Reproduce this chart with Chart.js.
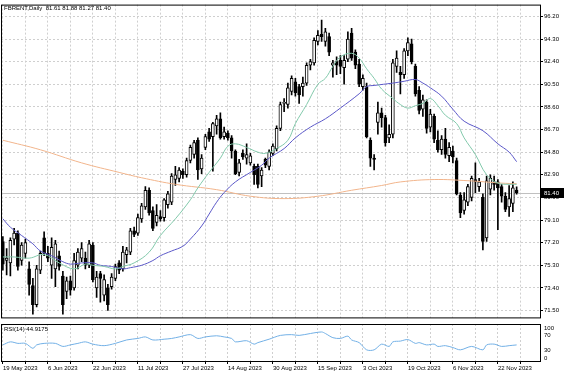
<!DOCTYPE html>
<html>
<head>
<meta charset="utf-8">
<script src="https://cdn.jsdelivr.net/npm/chart.js@4.4.0/dist/chart.umd.min.js"></script>
<style>
  body { margin: 0; background: #fff; }
  #wrap { position: relative; width: 564px; height: 376px; }
  #main { position: absolute; left: 0; top: 0; }
  #rsi { position: absolute; left: 0; top: 323px; }
</style>
</head>
<body>
<div id="wrap">
  <canvas id="main" width="564" height="323"></canvas>
  <canvas id="rsi" width="564" height="53"></canvas>
</div>
<script>
// FBRENT daily
var opens = [77.3,75.7,75.5,77.5,78.0,75.7,76.3,75.0,73.6,72.0,74.9,77.6,76.3,75.3,75.0,76.1,74.4,73.1,74.0,73.4,
  75.3,75.9,75.9,75.3,77.0,73.4,74.6,72.8,73.4,73.5,74.2,75.5,75.0,76.2,76.4,78.2,78.0,79.2,80.2,81.6,
  79.9,78.9,79.4,79.3,80.4,80.6,82.5,82.6,83.2,82.9,84.1,84.6,85.8,83.4,85.2,86.5,86.1,87.0,87.6,86.1,
  86.4,86.0,84.9,83.1,84.7,84.3,83.9,83.6,83.6,82.8,84.2,83.6,84.7,85.1,86.8,88.9,88.8,89.9,90.7,90.3,
  90.3,90.6,92.1,92.3,94.1,94.7,94.1,94.5,92.1,92.4,92.5,91.9,92.6,94.8,93.2,92.2,90.3,90.3,85.8,84.3,
  87.3,88.1,87.7,86.0,86.3,92.0,91.5,91.3,93.3,93.9,92.0,90.0,88.4,89.0,86.9,87.8,85.8,85.0,85.9,84.5,
  84.9,84.1,81.2,79.9,80.6,81.0,82.5,81.9,81.0,77.6,81.7,82.3,82.3,81.9,81.1,80.2,80.5,81.61];
var highs = [77.7,76.7,77.6,78.4,78.2,77.2,77.5,75.6,74.2,75.3,76.5,78.1,76.9,77.6,77.4,76.5,74.8,74.3,74.4,76.3,
  76.7,77.2,76.4,77.4,77.2,74.8,74.8,74.5,73.7,74.6,75.4,75.7,76.9,76.8,78.4,78.5,79.6,80.5,81.9,81.8,
  80.2,80.4,79.9,80.9,81.5,83.0,83.6,83.5,83.4,84.3,85.4,85.8,86.0,84.6,86.3,86.8,87.3,87.9,88.1,86.9,
  86.6,86.2,85.0,84.2,85.0,85.5,84.7,83.8,83.8,83.5,84.3,85.0,85.5,87.0,89.0,89.3,90.6,91.2,91.0,90.5,
  91.1,92.3,92.6,94.4,95.0,95.9,95.2,94.8,92.5,92.8,92.9,92.9,94.9,95.2,93.4,92.6,91.3,90.6,86.0,84.6,
  89.0,88.5,87.9,87.1,92.6,93.3,92.0,93.5,94.4,94.3,92.2,90.3,89.6,89.2,88.4,88.0,86.6,86.2,86.8,85.6,
  85.3,84.3,81.4,81.4,82.1,82.8,83.9,82.6,81.3,82.8,82.9,82.8,82.5,82.1,81.4,82.0,82.3,81.88];
var lows = [74.9,74.5,74.4,77.0,74.9,75.3,75.9,72.8,71.2,71.8,74.6,76.1,75.6,74.2,73.5,74.9,71.2,72.5,72.8,73.2,
  75.0,75.6,75.0,75.1,73.9,72.6,72.2,72.3,71.5,73.3,74.0,74.6,74.8,75.5,76.2,77.7,77.8,78.9,80.0,79.5,
  78.2,78.6,79.0,79.0,80.1,80.4,82.0,82.3,82.6,82.7,83.9,84.3,82.5,83.0,85.0,85.7,83.2,86.3,85.9,85.9,
  85.8,84.3,82.9,82.8,84.2,83.8,83.7,82.1,81.8,81.9,83.5,83.3,84.5,84.9,86.6,88.2,88.5,89.6,89.5,88.9,
  89.5,90.4,91.7,92.1,93.8,94.1,93.7,92.9,91.1,91.3,91.4,90.5,92.4,92.5,91.8,90.3,90.0,86.0,83.6,83.3,
  86.3,86.9,85.3,85.6,86.0,91.5,89.7,91.0,92.9,92.2,89.5,88.0,87.8,86.4,86.5,85.6,84.8,84.6,84.3,84.0,
  83.9,81.2,79.3,79.6,80.3,80.7,81.4,81.5,76.6,77.3,81.2,81.6,78.3,80.6,79.8,79.4,79.8,81.27];
var closes = [75.4,75.9,77.4,78.0,75.2,77.0,77.2,73.7,72.0,75.0,76.3,76.3,75.9,76.8,77.1,75.2,72.0,74.0,73.2,75.7,
  76.4,76.7,75.3,77.1,74.1,74.3,74.2,74.1,72.0,74.3,75.2,74.9,76.4,76.6,78.2,77.9,79.3,80.3,81.6,79.7,
  78.4,79.5,79.2,80.8,81.3,82.8,82.9,83.3,82.9,84.1,85.2,85.6,83.3,84.3,86.1,85.9,87.2,87.6,86.0,86.5,
  86.0,84.9,83.0,83.9,84.4,84.6,84.5,82.9,82.1,83.3,83.7,84.8,85.3,86.8,88.8,88.9,90.2,91.0,89.8,89.6,
  90.6,92.1,92.4,94.2,94.6,94.5,94.9,93.2,92.3,92.1,92.0,92.5,94.3,92.7,92.1,90.5,91.0,86.1,84.3,84.2,
  88.1,87.7,85.6,86.3,92.3,92.7,91.3,93.3,94.0,92.4,89.7,88.3,89.2,86.8,88.0,85.9,85.0,85.9,84.6,85.2,
  84.4,81.3,79.7,80.8,81.9,82.6,82.3,82.3,77.3,82.4,82.6,82.1,81.8,81.1,80.0,80.9,81.8,81.40];

// moving averages (bar index -> price)
var fastAt = [0,3,7,11,15,19,22,24,27,30,32,35,39,42,46,50,52,55,58,60,62,65,68,70,73,76,78,81,84,86,88,90,93,95,97,99,101,104,106,108,110,112,114,116,118,121,123,126,129,132,135,137];
var fastMa = [76.0,76.0,75.9,76.2,75.5,75.0,75.4,75.3,75.2,75.0,75.2,75.5,76.4,77.8,79.2,80.8,81.8,83.1,84.3,85.3,85.5,85.2,84.8,84.7,85.1,85.8,87.2,88.8,90.5,91.0,92.0,92.8,93.1,92.7,91.8,91.0,90.1,89.3,88.8,88.5,88.7,88.9,89.3,88.7,87.9,87.2,86.0,84.6,82.9,82.2,82.1,82.1];
var midAt = [0,2,5,8,10,13,16,18,21,24,26,29,32,34,37,40,42,45,48,50,53,55,57,59,62,66,69,71,75,78,82,86,90,95,97,99,104,107,110,112,114,117,120,123,128,132,135,137];
var midMa = [79.2,78.5,77.8,77.1,76.5,76.1,75.6,75.4,75.5,75.5,75.3,75.2,75.0,75.1,75.3,75.7,76.1,76.5,76.9,77.5,78.6,79.6,80.6,81.4,82.3,83.1,83.7,84.3,85.1,86.0,86.9,87.6,88.5,89.7,90.3,90.4,90.6,90.75,90.9,90.6,90.2,89.5,88.4,87.4,86.6,85.5,84.8,84.0];
var slowAt = [0,10,21,31,37,46,57,66,75,84,93,101,106,115,124,133,137];
var slowMa = [85.8,85.0,83.9,83.1,82.65,82.1,81.65,81.1,80.9,81.1,81.6,82.0,82.3,82.5,82.4,82.2,82.15];

// RSI(14)
var rsiAt = [0,2,4,6,8,9,11,14,16,18,20,22,24,27,30,33,36,38,40,43,45,47,50,52,54,57,59,61,62,65,67,68,71,74,77,79,82,85,86,88,90,92,93,95,97,99,101,103,104,106,108,110,111,113,115,116,118,120,122,125,128,129,131,133,135,137];
var rsiVal = [45,53,49,49,36,45,49,49,41,45,49,53,47,43,49,58,62,66,58,60,62,66,72,62,66,69,66,62,53,56,47,51,60,70,72,70,75,79,75,64,62,68,58,51,32,32,47,41,53,55,59,49,51,45,47,41,43,38,32,41,32,45,47,41,43,44.9175];

var dateLabels = ["19 May 2023","6 Jun 2023","22 Jun 2023","11 Jul 2023","27 Jul 2023","14 Aug 2023",
  "30 Aug 2023","15 Sep 2023","3 Oct 2023","19 Oct 2023","6 Nov 2023","22 Nov 2023"];
var priceTicks = [71.50,73.40,75.30,77.20,79.10,81.00,82.90,84.80,86.70,88.60,90.50,92.40,94.30,96.20];
var rsiTicks = [0,30,70,100];

var gridIdx = [];
for (var g = 0; g <= 138; g += 6) gridIdx.push(g);

function pts(at, vals) {
  return at.map(function (x, i) { return { x: x, y: vals[i] }; });
}

var bodies = opens.map(function (o, i) { return { x: i, y: [o, closes[i]] }; });
var wicks = lows.map(function (l, i) { return { x: i, y: [l, highs[i]] }; });
var bodyColors = opens.map(function (o, i) { return closes[i] >= o ? "#ffffff" : "#000000"; });

Chart.defaults.font.family = "'Liberation Sans', Arial, sans-serif";
Chart.defaults.font.size = 6;
Chart.defaults.color = "#000";

var last = closes.length - 1;
var FONT = "6px 'Liberation Sans', Arial, sans-serif";

var mainDeco = {
  id: "mainDeco",
  beforeDatasetsDraw: function (chart) {
    var ctx = chart.ctx, a = chart.chartArea;
    var yb = Math.round(chart.scales.y.getPixelForValue(closes[last])) + 0.5;
    ctx.save();
    ctx.strokeStyle = "#c0c0c0";
    ctx.lineWidth = 1;
    ctx.beginPath();
    ctx.moveTo(a.left, yb);
    ctx.lineTo(a.right, yb);
    ctx.stroke();
    ctx.restore();
  },
  afterDraw: function (chart) {
    var ctx = chart.ctx, a = chart.chartArea;
    ctx.save();
    ctx.strokeStyle = "#000";
    ctx.lineWidth = 1;
    ctx.strokeRect(a.left + 0.5, a.top + 0.5, a.right - a.left - 1, a.bottom - a.top - 1);
    // last price tag
    var yb = Math.round(chart.scales.y.getPixelForValue(closes[last]));
    ctx.fillStyle = "#000";
    ctx.fillRect(a.right, yb - 5, 23, 10);
    ctx.fillStyle = "#fff";
    ctx.font = FONT;
    ctx.textBaseline = "middle";
    ctx.fillText(closes[last].toFixed(2), a.right + 3, yb + 0.5);
    // header
    ctx.fillStyle = "#000";
    var head = [opens[last], highs[last], lows[last], closes[last]].map(function (v) { return v.toFixed(2); }).join(" ");
    ctx.fillText("FBRENT,Daily  " + head, 4, 8);
    ctx.restore();
  }
};

new Chart(document.getElementById("main"), {
  type: "bar",
  data: {
    datasets: [
      { type: "line", data: pts(fastAt, fastMa), borderColor: "#82c9ab", borderWidth: 1, pointRadius: 0, tension: 0.4, order: 0 },
      { type: "line", data: pts(midAt, midMa), borderColor: "#5b58c8", borderWidth: 1, pointRadius: 0, tension: 0.4, order: 0 },
      { type: "line", data: pts(slowAt, slowMa), borderColor: "#f2b58c", borderWidth: 1, pointRadius: 0, tension: 0.4, order: 0 },
      { data: bodies, backgroundColor: bodyColors, borderColor: "#000", borderWidth: 1, borderSkipped: false,
        barThickness: 3, minBarLength: 1, grouped: false, order: 1 },
      { data: wicks, backgroundColor: "#000", borderWidth: 0, barThickness: 1, grouped: false, order: 2 }
    ]
  },
  options: {
    responsive: false,
    animation: false,
    events: [],
    layout: { padding: { left: 1, top: 2, right: 0, bottom: 2 } },
    plugins: { legend: { display: false }, tooltip: { enabled: false } },
    scales: {
      x: {
        type: "linear", min: -0.5, max: 143.5, offset: false,
        ticks: { display: false },
        grid: { color: "#cfcfcf", drawTicks: false, offset: false },
        border: { display: false, dash: [2, 2] },
        afterBuildTicks: function (s) { s.ticks = gridIdx.map(function (v) { return { value: v }; }); },
        afterFit: function (s) { s.height = 0; }
      },
      y: {
        position: "right", min: 70.84, max: 97.19, beginAtZero: false,
        ticks: { padding: 1, font: { size: 6 }, callback: function (v) { return v.toFixed(2); } },
        grid: { color: "#cfcfcf", tickLength: 2, tickColor: "#000", tickBorderDash: [] },
        border: { display: false, dash: [2, 2] },
        afterBuildTicks: function (s) { s.ticks = priceTicks.map(function (v) { return { value: v }; }); },
        afterFit: function (s) { s.width = 23; }
      }
    }
  },
  plugins: [mainDeco]
});

var rsiDeco = {
  id: "rsiDeco",
  afterDraw: function (chart) {
    var ctx = chart.ctx, a = chart.chartArea, y = chart.scales.y;
    ctx.save();
    ctx.strokeStyle = "#000";
    ctx.lineWidth = 1;
    ctx.strokeRect(a.left + 0.5, a.top + 0.5, a.right - a.left - 1, a.bottom - a.top - 1);
    ctx.fillStyle = "#000";
    ctx.font = FONT;
    ctx.textBaseline = "middle";
    ctx.fillText("RSI(14) " + rsiVal[rsiVal.length - 1].toFixed(4), 4, a.top + 5);
    rsiTicks.forEach(function (v) {
      var py = y.getPixelForValue(v);
      py = Math.min(Math.max(py, a.top + 4), a.bottom - 4);
      ctx.fillText(String(v), a.right + 3, py);
    });
    ctx.restore();
  }
};

new Chart(document.getElementById("rsi"), {
  type: "line",
  data: {
    datasets: [
      { data: pts(rsiAt, rsiVal), borderColor: "#72b0e6", borderWidth: 1, pointRadius: 0, tension: 0.3 }
    ]
  },
  options: {
    responsive: false,
    animation: false,
    events: [],
    layout: { padding: { left: 1, top: 1, right: 0, bottom: 0 } },
    plugins: { legend: { display: false }, tooltip: { enabled: false } },
    scales: {
      x: {
        type: "linear", min: -0.5, max: 143.5,
        ticks: {
          autoSkip: false, maxRotation: 0, minRotation: 0, align: "start", padding: 1, font: { size: 6 },
          callback: function (v) { return v % 12 === 0 && v / 12 < dateLabels.length ? dateLabels[v / 12] : ""; }
        },
        grid: { color: "#cfcfcf", tickLength: 2, tickColor: "#000", tickBorderDash: [] },
        border: { display: false, dash: [2, 2] },
        afterBuildTicks: function (s) { s.ticks = gridIdx.map(function (v) { return { value: v }; }); },
        afterFit: function (s) { s.height = 14; }
      },
      y: {
        position: "right", min: 0, max: 100,
        ticks: { display: false },
        grid: { display: false },
        border: { display: false },
        afterFit: function (s) { s.width = 23; }
      }
    }
  },
  plugins: [rsiDeco]
});
</script>
</body>
</html>
